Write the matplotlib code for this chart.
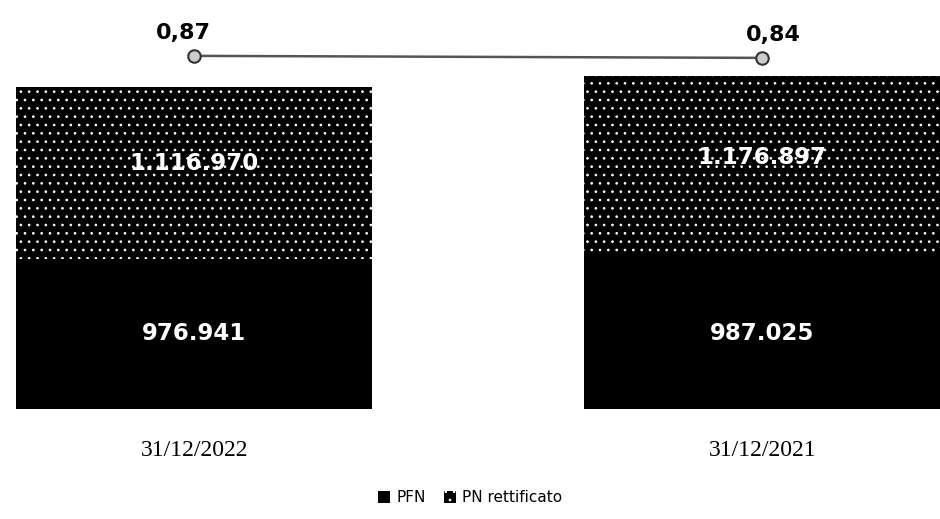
import matplotlib
matplotlib.use("Agg")
import matplotlib.pyplot as plt
import numpy as np

categories = ["31/12/2022", "31/12/2021"]
pfn = [976941, 987025]
pn_rett = [1116970, 1176897]
ratio = [0.87, 0.84]
pfn_labels = ["976.941", "987.025"]
pn_labels = ["1.116.970", "1.176.897"]
ratio_labels = ["0,87", "0,84"]

plt.rcParams['hatch.linewidth'] = 0.7

fig = plt.figure(figsize=(9.4, 5.19), dpi=100)
ax = fig.add_axes([0, 0.212, 1, 0.7495])
x = np.arange(len(categories))
w = 0.627
b1 = ax.bar(x, pfn, w, color="black", edgecolor="black", linewidth=0, label="PFN")
b2 = ax.bar(x, pn_rett, w, bottom=pfn, color="black", edgecolor="white",
            hatch="..", linewidth=0, label="PN rettificato")
ax.set_xlim(-0.342, 1.313)
ax.set_ylim(0, 2.53e6)
for s in ax.spines.values():
    s.set_visible(False)
ax.set_yticks([])
ax.set_xticks(x)
ax.set_xticklabels(categories, family="Liberation Serif", fontsize=17)
ax.tick_params(axis="x", length=0, pad=22)

for i in range(len(x)):
    ax.text(x[i], pfn[i] / 2, pfn_labels[i], ha="center", va="center",
            color="white", fontsize=16.5, fontweight="bold")
    ax.text(x[i], pfn[i] + pn_rett[i] / 2 + 60000, pn_labels[i], ha="center", va="center",
            color="white", fontsize=16.5, fontweight="bold")

ax2 = ax.twinx()
ax2.set_ylim(-4.395, 1.405)
ax2.plot(x, ratio, color="#555555", lw=1.8, marker="o", ms=9,
         markerfacecolor="#cccccc", markeredgecolor="#333333", markeredgewidth=1.5)
for i in range(len(x)):
    ax2.annotate(ratio_labels[i], (x[i], ratio[i]), xytext=(-8 if i == 0 else 8, 9),
                 textcoords="offset points", ha="center", va="bottom",
                 fontsize=16, fontweight="bold", color="black")
ax2.set_yticks([])
for s in ax2.spines.values():
    s.set_visible(False)

fig.legend(handles=[b1, b2], labels=["PFN", "PN rettificato"], loc="lower center",
           bbox_to_anchor=(0.5, 0.0), ncol=2, frameon=False, fontsize=11,
           handlelength=0.8, handleheight=0.8, columnspacing=1.2, handletextpad=0.4)

fig.savefig("out.png", dpi=100)
